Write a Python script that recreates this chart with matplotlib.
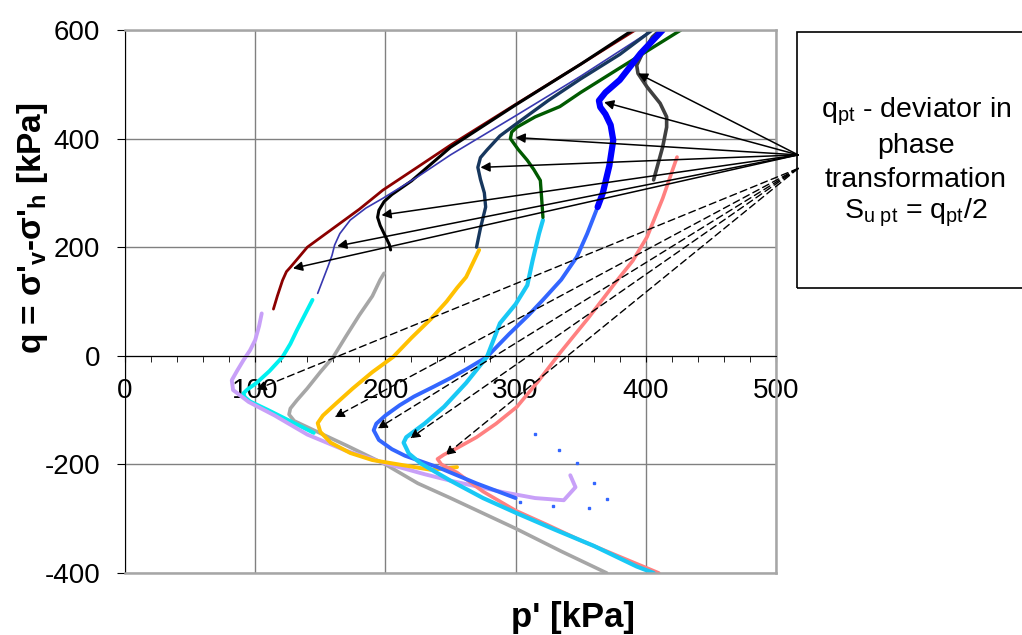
import matplotlib
matplotlib.use("Agg")
import matplotlib.pyplot as plt
from matplotlib.patches import Rectangle

plt.rcParams['font.family'] = ['Liberation Sans', 'DejaVu Sans']
plt.rcParams['mathtext.fontset'] = 'custom'
plt.rcParams['mathtext.rm'] = 'Liberation Sans'
plt.rcParams['mathtext.it'] = 'Liberation Sans:italic'
plt.rcParams['mathtext.bf'] = 'Liberation Sans:bold'
plt.rcParams['axes.unicode_minus'] = False

# ---- data: stress paths (p' , q) in kPa ----
maroon_p = [114, 117, 121, 124, 127, 133, 140, 160, 180, 198, 225, 250, 300, 350, 392]
maroon_q = [86, 110, 139, 155, 163, 180, 200, 235, 270, 305, 348, 388, 463, 537, 600]

black_p = [204, 203, 200, 196, 194, 195, 199, 205, 220, 250, 300, 350, 390]
black_q = [195, 205, 220, 240, 255, 268, 284, 297, 322, 384, 462, 537, 600]

lgray_p = [199, 196, 190, 180, 170, 160, 150, 140, 132, 127, 126, 130, 145, 170, 200, 225, 250, 275, 300, 335, 370]
lgray_q = [152, 140, 110, 75, 37, -2, -30, -60, -82, -97, -108, -120, -137, -165, -200, -235, -262, -290, -318, -360, -400]

tblue_p = [148, 152, 156, 159, 161, 165, 173, 185, 198, 225, 250, 300, 350, 405]
tblue_q = [115, 140, 165, 185, 204, 225, 250, 272, 290, 330, 370, 442, 515, 600]

navy_p = [270, 273, 277, 276, 273, 271, 273, 278, 288, 301, 325, 350, 380, 405]
navy_q = [200, 235, 274, 300, 325, 347, 365, 379, 405, 428, 470, 510, 555, 600]

yellow_p = [272, 268, 262, 255, 247, 235, 220, 206, 190, 175, 162, 152, 148, 150, 158, 173, 190, 210, 235, 255]
yellow_q = [195, 175, 145, 125, 100, 68, 33, -2, -30, -60, -88, -110, -124, -140, -160, -179, -192, -200, -210, -205]

green_p = [321, 320, 319, 314, 309, 302, 296, 297, 301, 315, 334, 350, 380, 427]
green_q = [255, 290, 323, 343, 360, 380, 400, 412, 421, 440, 459, 485, 530, 600]

cyan_p = [321, 318, 313, 309, 300, 288, 278, 262, 245, 230, 216, 214, 218, 227, 250, 275, 301, 330, 360, 393, 406]
cyan_q = [250, 225, 175, 130, 95, 60, -2, -50, -94, -125, -150, -160, -180, -198, -230, -262, -290, -320, -350, -388, -400]

blue_p = [363, 367, 372, 375, 373, 369, 365, 364, 369, 380, 396, 413]
blue_q = [274, 300, 350, 397, 425, 445, 458, 470, 485, 508, 557, 600]

rblue_p = [363, 355, 347, 335, 321, 310, 295, 278, 262, 250, 237, 222, 211, 200, 193, 191, 195, 205, 215, 240, 270, 300]
rblue_q = [274, 225, 182, 140, 103, 75, 40, -2, -25, -41, -57, -75, -91, -110, -125, -137, -155, -172, -184, -205, -235, -262]
rblue_tail_p = [303, 329, 356, 370, 360, 347, 333, 315]
rblue_tail_q = [-270, -276, -281, -263, -235, -198, -174, -144]

pink_p = [424, 413, 401, 390, 378, 356, 334, 318, 301, 285, 270, 255, 245, 240, 243, 255, 275, 300, 325, 350, 380, 410]
pink_q = [366, 290, 219, 175, 139, 70, 5, -45, -94, -125, -150, -170, -182, -190, -200, -215, -250, -285, -312, -340, -370, -400]

dgray_p = [406, 409, 413, 416, 416, 411, 401, 394, 393, 397, 405, 411]
dgray_q = [324, 350, 385, 421, 440, 465, 495, 520, 535, 555, 587, 600]

aqua_p = [144, 138, 132, 127, 121, 111, 101, 94, 91, 92, 96, 110, 125, 145]
aqua_q = [103, 75, 47, 22, -2, -28, -50, -62, -69, -76, -84, -100, -118, -142]

lav_p = [105, 103, 100, 96, 91, 86, 82, 83, 95, 115, 140, 170, 200, 230, 250, 290, 315, 337, 346, 342]
lav_q = [78, 55, 29, 10, -8, -28, -45, -63, -85, -110, -145, -175, -198, -218, -230, -251, -262, -266, -242, -220]

# arrow targets: phase transformation points
solid_src = (517, 370)
solid_tp = [129, 163, 197, 273, 300, 368, 394]
solid_tq = [161, 202, 259, 347, 402, 467, 520]
dash_src = (517, 345)
dash_tp = [101, 161, 194, 219, 246]
dash_tq = [-62, -113, -134, -152, -183]

fig = plt.figure(figsize=(10.22, 6.35), dpi=100)
ax = fig.add_axes([125 / 1022, 1 - 573 / 635, 651 / 1022, 543 / 635])

ax.set_xlim(0, 500)
ax.set_ylim(-400, 600)

ax.grid(True, color='#808080', lw=1, zorder=0)
ax.set_axisbelow(True)

curves = [
    (lgray_p, lgray_q, '#A6A6A6', 2.6),
    (aqua_p, aqua_q, '#00F0F0', 2.8),
    (lav_p, lav_q, '#C8A0F8', 2.8),
    (yellow_p, yellow_q, '#FFC000', 2.8),
    (pink_p, pink_q, '#FF8080', 2.6),
    (rblue_p, rblue_q, '#3366FF', 2.8),
    (cyan_p, cyan_q, '#19C8F5', 3.0),
    (maroon_p, maroon_q, '#8B0000', 2.0),
    (black_p, black_q, 'black', 2.2),
    (tblue_p, tblue_q, '#3838B0', 1.2),
    (navy_p, navy_q, '#17375E', 2.4),
    (green_p, green_q, '#005A00', 2.4),
    (dgray_p, dgray_q, '#404040', 2.6),
    (blue_p, blue_q, '#0000FF', 4.5),
]
for p, q, c, lw in curves:
    ax.plot(p, q, color=c, lw=lw, solid_joinstyle='round', solid_capstyle='round', zorder=2)
ax.plot(rblue_tail_p, rblue_tail_q, ls='none', marker='s', ms=2, color='#3366FF', zorder=2)

for tp, tq in zip(solid_tp, solid_tq):
    ax.annotate('', xy=(tp, tq), xytext=solid_src, annotation_clip=False,
                arrowprops=dict(arrowstyle='-|>', color='black', lw=1.1,
                                mutation_scale=14, shrinkA=0, shrinkB=0), zorder=5)
for tp, tq in zip(dash_tp, dash_tq):
    ax.annotate('', xy=(tp, tq), xytext=dash_src, annotation_clip=False,
                arrowprops=dict(arrowstyle='-|>', color='black', lw=1.0, ls=(0, (5, 3)),
                                mutation_scale=14, shrinkA=0, shrinkB=0), zorder=5)

# axes styled like the spreadsheet original
ax.spines['bottom'].set_position(('data', 0))
ax.spines['bottom'].set_color('black')
ax.spines['left'].set_color('black')
for s in ['top', 'right']:
    ax.spines[s].set_color('#A6A6A6')
    ax.spines[s].set_linewidth(1.8)
ax.axhline(-400, color='#A6A6A6', lw=1.8, clip_on=False, zorder=3)

ax.set_xticks([0, 100, 200, 300, 400, 500])
ax.set_xticks(range(0, 501, 20), minor=True)
ax.set_yticks([-400, -200, 0, 200, 400, 600])
ax.tick_params(axis='x', which='both', direction='out', length=4, color='black')
ax.tick_params(axis='x', which='major', pad=12, labelsize=20)
ax.tick_params(axis='y', which='major', direction='out', length=6, pad=12, labelsize=20)

fig.text(573 / 1022, 1 - 617 / 635, "p' [kPa]", fontsize=25, fontweight='bold', ha='center', va='center')
fig.text(33 / 1022, 1 - 228 / 635, r"q = σ'$_\mathbf{v}$-σ'$_\mathbf{h}$ [kPa]", fontsize=24,
         fontweight='bold', rotation=90, ha='center', va='center')

# note box
fig.add_artist(Rectangle((797 / 1022, 1 - 288 / 635), 240 / 1022, 256 / 635,
                         transform=fig.transFigure, fill=False, ec='black', lw=1.2))
box_lines = [r"q$_\mathrm{pt}$ - deviator in", "phase", "transformation",
             r"S$_\mathrm{u\ pt}$ = q$_\mathrm{pt}$/2"]
box_y = [112, 146, 180, 213]
for txt, y in zip(box_lines, box_y):
    fig.text(916 / 1022, 1 - y / 635, txt, fontsize=20.5, ha='center', va='center')

plt.savefig('out.png', dpi=100)
